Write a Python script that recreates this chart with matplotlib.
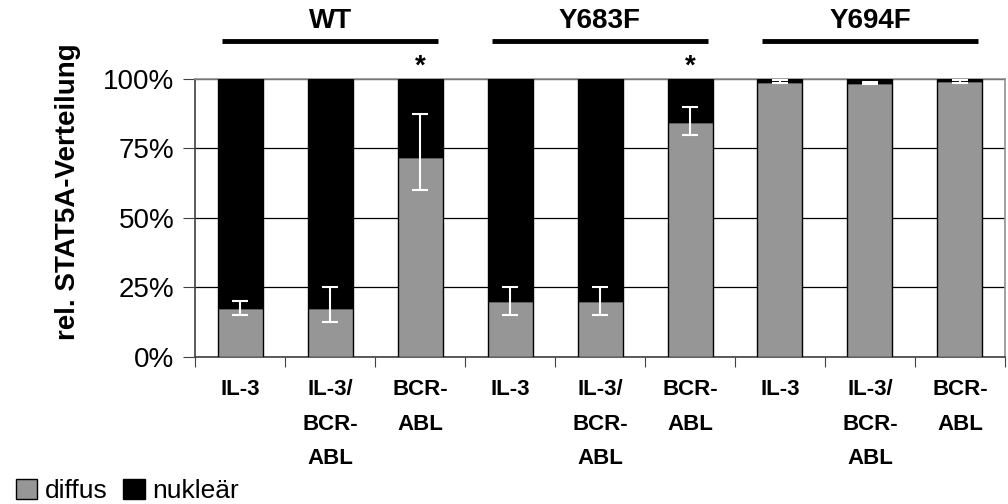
import numpy as np
import matplotlib.pyplot as plt
from matplotlib.patches import Patch

plt.rcParams['font.family'] = ['Liberation Sans', 'DejaVu Sans']

labels = ["IL-3", "IL-3/\nBCR-\nABL", "BCR-\nABL"] * 3
groups = ["WT", "Y683F", "Y694F"]
diffus = [17.5, 17.5, 72, 20, 20, 84.5, 99, 98.6, 99.1]
err_lo = [2.5, 5, 12, 5, 5, 4.5, 0.5, 0.4, 0.5]
err_hi = [2.5, 7.5, 15.5, 5, 5, 5.5, 0.5, 0.4, 0.5]
nuklear = [100 - d for d in diffus]
signif = [2, 5]  # bars with asterisk

fig = plt.figure(figsize=(10.08, 5.04), dpi=100)
ax = fig.add_axes([0.1935, 0.2917, 0.8035, 0.5516])

x = np.arange(len(diffus))
ax.bar(x, diffus, width=0.5, color="#969696", edgecolor="black", linewidth=1, zorder=3)
ax.bar(x, nuklear, width=0.5, bottom=diffus, color="black", edgecolor="black", linewidth=1, zorder=3)
ax.errorbar(x, diffus, yerr=[err_lo, err_hi], fmt="none", ecolor="white",
            elinewidth=1.5, capsize=5.5, capthick=1.5, zorder=4)

ax.set_xlim(-0.5, len(diffus) - 0.5)
ax.set_ylim(0, 100)
ax.set_yticks([0, 25, 50, 75, 100])
ax.set_yticklabels(["0%", "25%", "50%", "75%", "100%"], fontsize=20)
ax.yaxis.grid(True, color="black", linewidth=0.9, zorder=0)
ax.set_axisbelow(True)

ax.set_xticks(np.arange(len(diffus) + 1) - 0.5)
ax.set_xticklabels([])
ax.set_xticks(x, minor=True)
ax.set_xticklabels(labels, minor=True, fontsize=16, fontweight="bold", va="top", linespacing=1.85)
ax.tick_params(axis="x", which="minor", length=0, pad=16)
ax.tick_params(axis="x", which="major", length=7, color="#404040")
ax.tick_params(axis="y", length=9, color="#404040", pad=6)

for s in ["left", "bottom"]:
    ax.spines[s].set_color("#404040")
    ax.spines[s].set_linewidth(1.2)
for s in ["top", "right"]:
    ax.spines[s].set_color("#909090")
    ax.spines[s].set_linewidth(1.2)

ax.set_ylabel("rel. STAT5A-Verteilung", fontsize=20, fontweight="bold")
ax.yaxis.set_label_coords(-0.141, 0.594)

# group labels and bars above the plot
for g, name in enumerate(groups):
    x0, x1 = 3 * g - 0.2, 3 * g + 2.2
    ax.plot([x0, x1], [113.5, 113.5], color="black", linewidth=3.5, clip_on=False,
            solid_capstyle="butt")
    ax.text(3 * g + 1, 121, name, ha="center", va="center", fontsize=20, fontweight="bold")

for i in signif:
    ax.text(x[i], 104.5, "*", ha="center", va="center", fontsize=20, fontweight="bold")

handles = [Patch(facecolor="#969696", edgecolor="black", label="diffus"),
           Patch(facecolor="black", edgecolor="black", label="nukleär")]
fig.legend(handles=handles, loc="lower left", bbox_to_anchor=(0.0, -0.03), ncol=2,
           frameon=False, fontsize=19, handlelength=0.8, handleheight=0.8,
           handletextpad=0.3, columnspacing=0.6, borderaxespad=0.2)

fig.savefig("out.png", dpi=100)
